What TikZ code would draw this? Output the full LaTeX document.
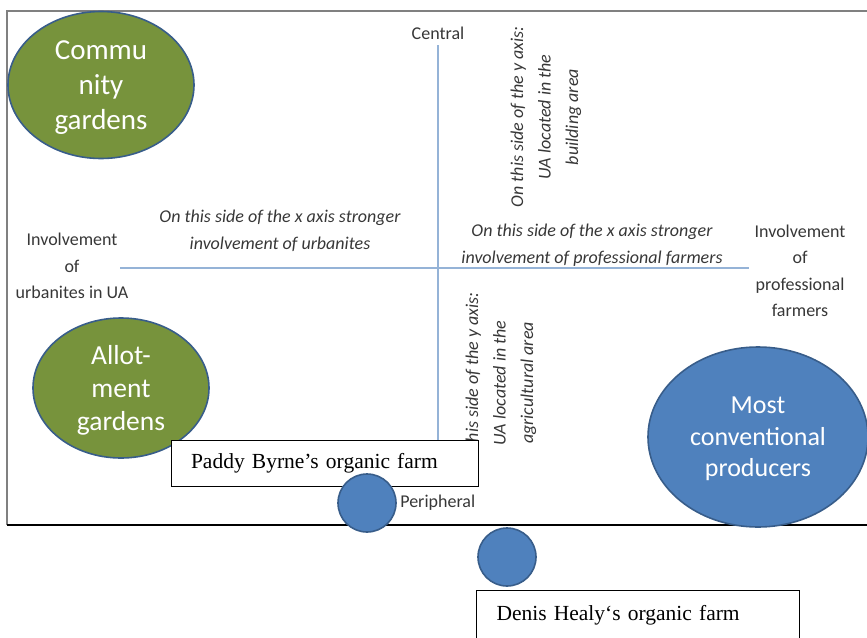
\documentclass[tikz,border=0pt]{standalone}
\usepackage{fontspec}
\setmainfont{Liberation Serif}
\setsansfont{Carlito}
\definecolor{uagreen}{RGB}{119,147,60}
\definecolor{uablue}{RGB}{79,129,189}
\definecolor{uaedge}{RGB}{56,93,138}
\definecolor{uaaxis}{RGB}{149,179,215}
\definecolor{uatext}{RGB}{55,55,55}
\tikzset{every picture/.style={/utils/exec={\sffamily}}}
\usetikzlibrary{shapes.geometric}
\usetikzlibrary{positioning}

\tikzset{
  blob/.style={ellipse, draw=uaedge, line width=1.6pt, inner sep=0pt, text=white, align=center, text depth=0pt},
  lbl/.style={text=uatext, align=center, font=\fontsize{18}{26.5}\selectfont},
  note/.style={text=uatext, align=center, font=\itshape\fontsize{18}{27.5}\selectfont},
  farmbox/.style={draw, line width=1pt, fill=white, inner xsep=20pt, align=left,
    font=\rmfamily\fontsize{21.5}{24}\selectfont},
  axis/.style={draw=uaaxis, line width=1.5pt}
}

\begin{document}
\begin{tikzpicture}[x=1pt, y=-1pt]
  \clip (0,0) rectangle (867,637);

  % frame:
  \draw [gray, line width=1.5pt] (867,11) -- (7,11) -- (7,525);
  \draw [black, line width=1.5pt] (7,525) -- (867,525);

  % axes:
  \coordinate (ytop) at (438,45);
  \coordinate (ybot) at (438,460);
  \coordinate (xl) at (120,268);
  \coordinate (xr) at (749,268);
  \draw [axis] (ytop) -- (ybot);
  \draw [axis] (xl) -- (xr);

  \node [lbl, above=2pt of ytop] (central) {Central};
  \node [lbl] (urb) at (72,266) {Involvement\\of\\urbanites in UA};
  \node [lbl] (prof) at (800,271) {Involvement\\of\\professional\\farmers};

  % sides of the axes:
  \node [note] (xurb) at (280,231) {On this side of the x axis stronger\\involvement of urbanites};
  \node [note] (xprof) at (592,245) {On this side of the x axis stronger\\involvement of professional farmers};
  \node [note, rotate=90] (ybuild) at (546,117) {On this side of the y axis:\\UA located in the\\building area};
  \node [note, rotate=90] (yagri) at (501,383) {On this side of the y axis:\\UA located in the\\agricultural area};

  % types of UA:
  \node [blob, fill=uagreen, minimum width=186pt, minimum height=147pt,
    font=\fontsize{29}{35}\selectfont] (cg) at (101,85) {Commu\\nity\\gardens};
  \node [blob, fill=uagreen, minimum width=176pt, minimum height=140pt,
    font=\fontsize{27.5}{33}\selectfont] (ag) at (121,388) {Allot-\\ment\\gardens};
  \node [blob, fill=uablue, minimum width=220pt, minimum height=180pt,
    font=\fontsize{26}{31.5}\selectfont] (mcp) at (758,437) {Most\\conventional\\producers};

  % farms:
  \node [farmbox, text width=267pt, minimum height=46pt] (pb) at (324.5,463) {Paddy Byrne’s organic farm};
  \node [blob, fill=uablue, minimum size=58pt] (pbc) at (367,503) {};
  \node [lbl, right=0pt of pbc] (peri) {Peripheral};

  \node [blob, fill=uablue, minimum size=58pt] (dhc) at (507,557) {};
  \node [farmbox, text width=283pt, minimum height=50pt, anchor=north west] (dh) at (476,590) {Denis Healy‘s organic farm};

\end{tikzpicture}
\end{document}
